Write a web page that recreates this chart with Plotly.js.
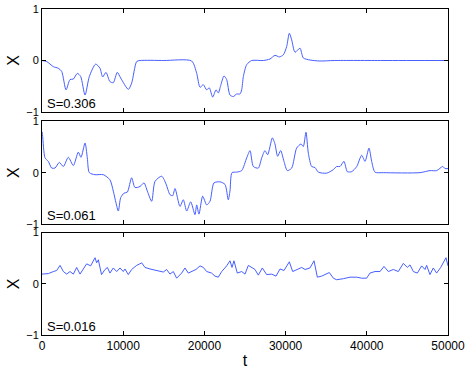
<!DOCTYPE html>
<html>
<head>
<meta charset="utf-8">
<script src="https://cdn.plot.ly/plotly-3.0.1.min.js"></script>
<style>
  html, body { margin: 0; padding: 0; background: #fff; }
  #chart { width: 469px; height: 372px; }
</style>
</head>
<body>
<div id="chart"></div>
<script>
// panel 1, S=0.306
const t1 = [0, 580, 1400, 2000, 2420, 2960, 3450, 3860, 4350, 4760, 5300, 5830, 6610, 7140, 7470, 7880,
  8370, 8780, 9270, 9690, 10630, 11040, 11660, 12070, 15000, 18430, 19050, 19460, 19870, 20280, 20600,
  21020, 21430, 21710, 22000, 22410, 22740, 23150, 23560, 23970, 24380, 24590, 24800, 25210, 25830,
  27260, 28080, 28690, 29230, 29720, 30130, 30460, 30750, 31160, 31770, 32180, 33000, 34240, 36000,
  42000, 50000];
const x1 = [0, -0.02, -0.12, -0.15, -0.21, -0.57, -0.37, -0.36, -0.25, -0.31, -0.67, -0.31, -0.07, -0.15, -0.32, -0.23,
  -0.41, -0.43, -0.23, -0.34, -0.56, -0.44, -0.02, 0, 0, -0.01, -0.25, -0.52, -0.47, -0.57, -0.53,
  -0.71, -0.57, -0.63, -0.49, -0.30, -0.37, -0.67, -0.70, -0.65, -0.65, -0.57, -0.31, -0.08, 0,
  0, 0.03, 0.10, 0.07, 0.11, 0.27, 0.53, 0.40, 0.16, 0.24, 0.05, 0.01, -0.01, 0,
  0, 0];

// panel 2, S=0.061
const t2 = [0, 80, 370, 780, 1190, 1600, 2130, 2630, 3240, 3860, 4470, 4800, 5300, 5580, 5830, 6530, 7550,
  8370, 8780, 9110, 9400, 9690, 10100, 10510, 11040, 11450, 12070, 12560, 12970, 13510, 13920, 14740,
  15270, 15760, 16090, 16380, 16990, 17400, 17820, 18310, 18840, 19050, 19330, 19790, 20280, 20690,
  21180, 21920, 22540, 22940, 23150, 23400, 23970, 24590, 25210, 25620, 26030, 26640, 27060, 27460,
  27790, 28370, 28690, 29020, 29390, 29800, 30210, 30750, 31360, 31900, 32180, 32510, 32800, 33210,
  33620, 34030, 35060, 35880, 36290, 36700, 37190, 37600, 38140, 38760, 39370, 39780, 40270, 40600,
  41010, 42040, 46550, 47780, 48610, 49350, 49630, 50000];
const x2 = [0.80, 0.71, 0.29, 0.22, 0.09, 0.09, 0.20, 0.12, 0.30, 0.14, 0.40, 0.30, 0.58, 0.29, 0.0, -0.04, -0.04,
  -0.14, -0.36, -0.59, -0.75, -0.49, -0.40, -0.38, -0.10, -0.29, -0.27, -0.20, -0.36, -0.56, -0.17, -0.07,
  -0.22, -0.43, -0.45, -0.31, -0.66, -0.53, -0.75, -0.57, -0.82, -0.63, -0.81, -0.46, -0.63, -0.56,
  -0.20, -0.18, -0.23, -0.53, -0.36, 0.0, 0.01, 0.04, 0.29, 0.43, 0.12, 0.09, 0.29, 0.43,
  0.35, 0.68, 0.56, 0.32, 0.43, 0.22, 0.04, 0.09, 0.48, 0.56, 0.51, 0.79, 0.38, 0.12,
  0.10, 0.01, -0.01, 0.06, 0.12, 0.12, 0.22, 0.02, 0.02, 0.12, 0.34, 0.22, 0.48, 0.22,
  0.01, 0, 0, 0.04, 0.04, 0.12, 0.08, 0.08];

// panel 3, S=0.016
const t3 = [0, 780, 1400, 1810, 2220, 2630, 3040, 3450, 3860, 4270, 4680, 5090, 5500, 5990, 6530, 6730, 6940,
  7330, 7760, 8050, 8370, 8780, 9200, 9610, 10010, 10220, 10630, 11040, 11660, 12280, 12680, 13300,
  14120, 14940, 15350, 15760, 16170, 16580, 17200, 17610, 18020, 18430, 18960, 19460, 19870, 20280,
  20890, 21300, 21710, 22130, 22740, 23150, 23400, 23640, 24050, 24590, 25000, 25410, 25830, 26230,
  26640, 27130, 27670, 28290, 28820, 29310, 29800, 30460, 30870, 31360, 31980, 32390, 33000, 33500,
  33910, 34440, 34850, 35380, 35880, 36290, 37110, 37930, 38750, 39370, 39980, 40390, 41010, 41630,
  42120, 42650, 43270, 43880, 44500, 44990, 45320, 45730, 46220, 46760, 47170, 47370, 47780, 48190,
  48600, 49100, 49750, 50000];
const x3 = [0.19, 0.20, 0.24, 0.26, 0.36, 0.24, 0.19, 0.24, 0.19, 0.32, 0.19, 0.30, 0.39, 0.35, 0.51, 0.41, 0.47,
  0.18, 0.28, 0.32, 0.21, 0.31, 0.24, 0.31, 0.24, 0.29, 0.18, 0.28, 0.36, 0.41, 0.32, 0.29,
  0.26, 0.23, 0.28, 0.19, 0.24, 0.11, 0.21, 0.31, 0.21, 0.24, 0.28, 0.35, 0.32, 0.24,
  0.21, 0.15, 0.13, 0.24, 0.35, 0.45, 0.32, 0.45, 0.21, 0.24, 0.19, 0.36, 0.31, 0.28,
  0.17, 0.31, 0.18, 0.19, 0.15, 0.29, 0.26, 0.43, 0.24, 0.28, 0.32, 0.28, 0.31, 0.45,
  0.13, 0.15, 0.18, 0.22, 0.11, 0.08, 0.10, 0.13, 0.13, 0.11, 0.11, 0.21, 0.24, 0.24,
  0.34, 0.24, 0.28, 0.24, 0.40, 0.32, 0.37, 0.24, 0.21, 0.35, 0.28, 0.36, 0.18, 0.31,
  0.21, 0.32, 0.51, 0.35];

const sLabels = ['S=0.306', 'S=0.061', 'S=0.016'];
const xTicks = [0, 10000, 20000, 30000, 40000, 50000];
const xTickText = ['0', '10000', '20000', '30000', '40000', '50000'];
const yTicks = [-1, 0, 1];
const yTickText = ['\u22121', '0', '1'];

const lineColor = 'rgb(70,95,255)';
const font = 'Liberation Sans, Arial, sans-serif';

const traces = [
  { x: t1, y: x1, xaxis: 'x', yaxis: 'y', mode: 'lines', line: { color: lineColor, width: 1, shape: 'spline', smoothing: 0.7 } },
  { x: t2, y: x2, xaxis: 'x2', yaxis: 'y2', mode: 'lines', line: { color: lineColor, width: 1, shape: 'spline', smoothing: 0.7 } },
  { x: t3, y: x3, xaxis: 'x3', yaxis: 'y3', mode: 'lines', line: { color: lineColor, width: 1 } }
];

function xAx(anchor, labels) {
  return {
    anchor: anchor, range: [0, 50000], tickvals: xTicks, ticktext: xTickText, showticklabels: labels,
    ticks: 'inside', ticklen: 4, tickcolor: '#000', showline: true, linecolor: '#000', linewidth: 1,
    mirror: 'ticks', showgrid: false, zeroline: false,
    tickfont: { family: font, size: 12, color: '#000' }
  };
}
function yAx(anchor, domain) {
  return {
    anchor: anchor, domain: domain, range: [-1, 1], tickvals: yTicks, ticktext: yTickText,
    ticks: 'inside', ticklen: 4, tickcolor: '#000', showline: true, linecolor: '#000', linewidth: 1,
    mirror: 'ticks', showgrid: false, zeroline: false,
    tickfont: { family: font, size: 11, color: '#000' },
    title: { text: 'X', font: { family: font, size: 16, color: '#000' }, standoff: 2 }
  };
}

const layout = {
  width: 469, height: 372,
  margin: { l: 42, r: 21, t: 9, b: 37 },
  paper_bgcolor: '#fff', plot_bgcolor: '#fff',
  showlegend: false,
  xaxis: xAx('y', false),
  xaxis2: xAx('y2', false),
  xaxis3: Object.assign(xAx('y3', true), { title: { text: 't', font: { family: font, size: 16, color: '#000' }, standoff: 2 } }),
  yaxis: yAx('x', [0.684, 1]),
  yaxis2: yAx('x2', [0.341, 0.655]),
  yaxis3: yAx('x3', [0, 0.314]),
  annotations: sLabels.map((s, i) => ({
    text: s, xref: (i ? 'x' + (i + 1) : 'x') + ' domain', yref: (i ? 'y' + (i + 1) : 'y') + ' domain',
    x: 0.01, y: 0, xanchor: 'left', yanchor: 'bottom', showarrow: false, borderpad: 0,
    font: { family: font, size: 13, color: '#000' }
  }))
};

Plotly.newPlot('chart', traces, layout, { displayModeBar: false, staticPlot: true });
</script>
</body>
</html>
